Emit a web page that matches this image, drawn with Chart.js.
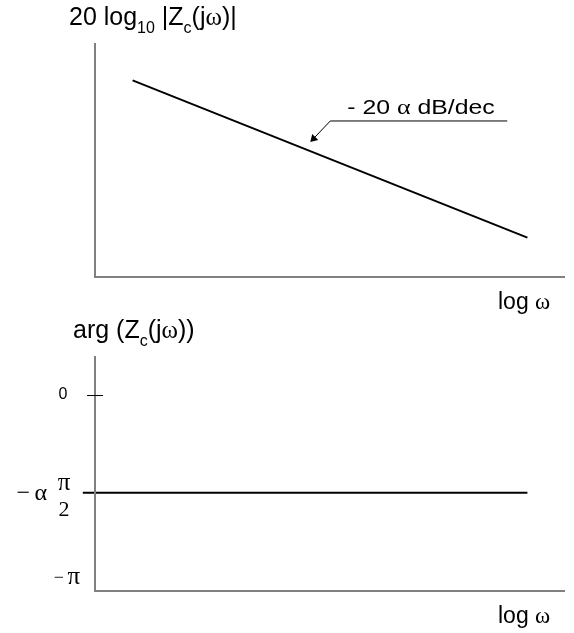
<!DOCTYPE html>
<html>
<head>
<meta charset="utf-8">
<script src="https://cdn.jsdelivr.net/npm/chart.js@4/dist/chart.umd.min.js"></script>
<style>
  html, body { margin: 0; padding: 0; background: #fff; }
  #wrap { position: relative; width: 574px; height: 633px; }
  canvas { position: absolute; left: 0; }
</style>
</head>
<body>
<div id="wrap">
  <canvas id="magChart" width="574" height="316" style="top:0"></canvas>
  <canvas id="phaseChart" width="574" height="317" style="top:316px"></canvas>
</div>
<script>
// log ω (decades) at both ends of each line
const magOmega = [0.4, 4.6];
const magDb = [-16, -83.2];          // -20 α dB/dec, α = 0.8
const phaseOmega = [-0.13, 4.6];
const phaseRad = [-1.68, -1.68];     // -α π/2
const phaseTickValues = [0, -1.68, -Math.PI];
const phaseTickLabels = ['0', '-απ/2', '-π'];
const slopeLabel = ['- 20 ', 'α', ' dB/dec'];

const SANS = "'Liberation Sans', Arial, sans-serif";
const SERIF = "'Liberation Serif', 'Times New Roman', serif";

// draws a row of text runs (font, offset) starting at x, baseline y
function drawRuns(ctx, x, y, runs) {
  ctx.textAlign = 'left';
  ctx.textBaseline = 'alphabetic';
  runs.forEach(r => {
    ctx.font = r.font;
    ctx.fillText(r.t, x, y + (r.dy || 0));
    x += ctx.measureText(r.t).width;
  });
}

function toPoints(xs, ys) {
  return xs.map((x, i) => ({ x: x, y: ys[i] }));
}

// axis lines, drawn on the chart area edges
const axesPlugin = {
  id: 'axes',
  afterDraw(chart) {
    const { ctx, chartArea: a } = chart;
    ctx.save();
    ctx.strokeStyle = '#808080';
    ctx.lineWidth = 2;
    ctx.beginPath();
    ctx.moveTo(a.left, a.top);
    ctx.lineTo(a.left, a.bottom);
    ctx.lineTo(a.right, a.bottom);
    ctx.stroke();
    ctx.restore();
  }
};

function logOmegaTitle(ctx, a) {
  drawRuns(ctx, a.right - 67, a.bottom + 32, [
    { t: 'log ', font: '23px ' + SANS },
    { t: 'ω', font: '23px ' + SERIF }
  ]);
}

const magText = {
  id: 'magText',
  afterDraw(chart) {
    const { ctx, chartArea: a, scales } = chart;
    ctx.save();
    ctx.fillStyle = '#000';
    drawRuns(ctx, a.left - 26, a.top - 18, [
      { t: '20 log', font: '25px ' + SANS },
      { t: '10', font: '16px ' + SANS, dy: 8 },
      { t: ' |Z', font: '25px ' + SANS },
      { t: 'c', font: '16px ' + SANS, dy: 8 },
      { t: '(j', font: '25px ' + SANS },
      { t: 'ω', font: '25px ' + SERIF },
      { t: ')|', font: '25px ' + SANS }
    ]);
    logOmegaTitle(ctx, a);

    // slope callout
    const tx = scales.x.getPixelForValue(2.29);
    const ty = scales.y.getPixelForValue(-42.3);
    ctx.strokeStyle = '#000';
    ctx.lineWidth = 1;
    ctx.beginPath();
    ctx.moveTo(tx + 197, ty - 21);
    ctx.lineTo(tx + 20, ty - 21);
    ctx.lineTo(tx + 2, ty - 2);
    ctx.stroke();
    ctx.beginPath();
    ctx.moveTo(tx, ty);
    ctx.lineTo(tx + 2, ty - 8);
    ctx.lineTo(tx + 8, ty - 2);
    ctx.closePath();
    ctx.fill();
    ctx.save();
    ctx.translate(tx + 37, ty - 28);
    ctx.scale(1.24, 1);
    drawRuns(ctx, 0, 0, [
      { t: slopeLabel[0], font: '20px ' + SANS },
      { t: slopeLabel[1], font: '21px ' + SERIF },
      { t: slopeLabel[2], font: '20px ' + SANS }
    ]);
    ctx.restore();
    ctx.restore();
  }
};

const phaseText = {
  id: 'phaseText',
  afterDraw(chart) {
    const { ctx, chartArea: a, scales } = chart;
    ctx.save();
    ctx.fillStyle = '#000';
    drawRuns(ctx, a.left - 22, a.top - 18, [
      { t: 'arg (Z', font: '25px ' + SANS },
      { t: 'c', font: '16px ' + SANS, dy: 8 },
      { t: '(j', font: '25px ' + SANS },
      { t: 'ω', font: '25px ' + SERIF },
      { t: '))', font: '25px ' + SANS }
    ]);
    logOmegaTitle(ctx, a);

    const y0 = scales.y.getPixelForValue(phaseTickValues[0]);
    const y1 = scales.y.getPixelForValue(phaseTickValues[1]);
    const y2 = scales.y.getPixelForValue(phaseTickValues[2]);

    // 0 tick
    ctx.font = '16px ' + SANS;
    ctx.textAlign = 'center';
    ctx.textBaseline = 'middle';
    ctx.fillText(phaseTickLabels[0], a.left - 32, y0);
    ctx.strokeStyle = '#000';
    ctx.lineWidth = 1;
    ctx.beginPath();
    ctx.moveTo(a.left - 8, y0 + 0.5);
    ctx.lineTo(a.left + 8, y0 + 0.5);
    ctx.stroke();

    // -α π/2
    ctx.textBaseline = 'alphabetic';
    ctx.textAlign = 'right';
    ctx.font = '24px ' + SERIF;
    ctx.fillText('α', a.left - 48, y1 + 7);
    ctx.fillText('−', a.left - 65, y1 + 7);
    ctx.textAlign = 'center';
    ctx.font = '25px ' + SERIF;
    ctx.fillText('π', a.left - 31, y1 - 3);
    ctx.font = '22px ' + SERIF;
    ctx.fillText('2', a.left - 31, y1 + 23);

    // -π
    ctx.textAlign = 'right';
    ctx.font = '25px ' + SERIF;
    ctx.fillText('π', a.left - 15, y2 + 6);
    ctx.font = '18px ' + SERIF;
    ctx.fillText('−', a.left - 31, y2 + 5);
    ctx.restore();
  }
};

new Chart(document.getElementById('magChart'), {
  type: 'line',
  data: {
    datasets: [{
      data: toPoints(magOmega, magDb),
      borderColor: '#000',
      borderWidth: 2,
      pointRadius: 0,
      fill: false
    }]
  },
  options: {
    responsive: false,
    animation: false,
    devicePixelRatio: 1,
    layout: { padding: { left: 95, right: 9, top: 43, bottom: 39 } },
    scales: {
      x: { type: 'linear', display: false, min: 0, max: 5 },
      y: { type: 'linear', display: false, min: -100, max: 0 }
    },
    plugins: { legend: { display: false }, tooltip: { enabled: false } }
  },
  plugins: [axesPlugin, magText]
});

new Chart(document.getElementById('phaseChart'), {
  type: 'line',
  data: {
    datasets: [{
      data: toPoints(phaseOmega, phaseRad),
      borderColor: '#000',
      borderWidth: 2,
      pointRadius: 0,
      fill: false,
      clip: false
    }]
  },
  options: {
    responsive: false,
    animation: false,
    devicePixelRatio: 1,
    layout: { padding: { left: 95, right: 9, top: 40, bottom: 42 } },
    scales: {
      x: { type: 'linear', display: false, min: 0, max: 5 },
      y: { type: 'linear', display: false, min: -3.365, max: 0.67 }
    },
    plugins: { legend: { display: false }, tooltip: { enabled: false } }
  },
  plugins: [axesPlugin, phaseText]
});
</script>
</body>
</html>
